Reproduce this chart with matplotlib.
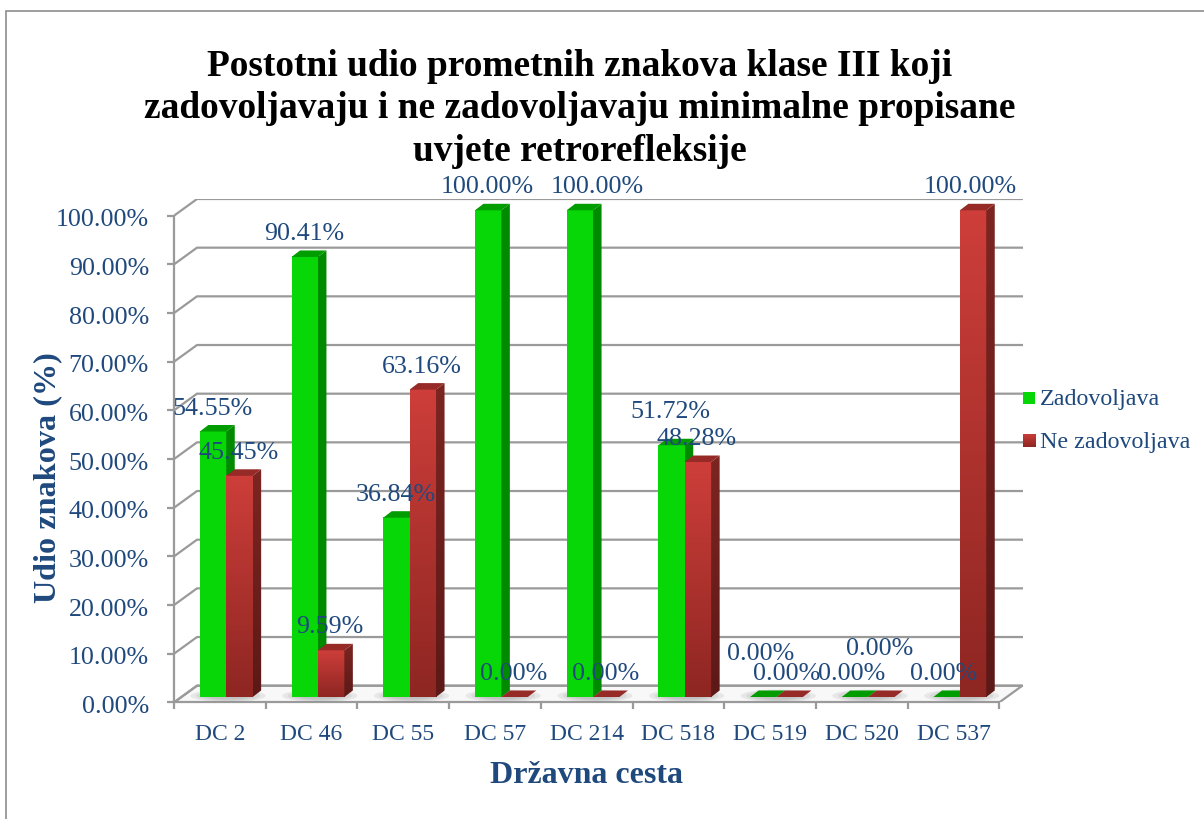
import numpy as np
import matplotlib
matplotlib.use("Agg")
import matplotlib.pyplot as plt
from matplotlib.colors import LinearSegmentedColormap
from matplotlib.patches import Polygon, Rectangle, Ellipse
from matplotlib.transforms import ScaledTranslation

plt.rcParams['font.family'] = ['Liberation Serif', 'DejaVu Serif']

#  Data
ceste = ["DC 2", "DC 46", "DC 55", "DC 57", "DC 214", "DC 518", "DC 519", "DC 520", "DC 537"]
zadovoljava = [54.55, 90.41, 36.84, 100.00, 100.00, 51.72, 0.00, 0.00, 0.00]
ne_zadovoljava = [45.45, 9.59, 63.16, 0.00, 0.00, 48.28, 0.00, 0.00, 100.00]
y_ticks = [0, 10, 20, 30, 40, 50, 60, 70, 80, 90, 100]

#  Picture size and plot frame, pixels
W, H = 1204, 820
x0, x1_back, y0, y_top = 174, 1023, 703.4, 200.2
cat_px = 91.7
val_px = 4.867

#  Colours
text_col = "#1f497d"
grid_col = "#9a9a9a"
green_front = LinearSegmentedColormap.from_list("gf", ["#07d607", "#07d607"])
green_side = LinearSegmentedColormap.from_list("gs", ["#008a00", "#008a00"])
red_front = LinearSegmentedColormap.from_list("rf", ["#cd3e3a", "#8e2622"])
red_side = LinearSegmentedColormap.from_list("rs", ["#7c2521", "#5c1917"])
green_top, red_top = "#009c00", "#962a26"

#  Pseudo 3D offsets, in data units
wall_dx, wall_dy = 23/cat_px, 16.7/val_px
bar_dx, bar_dy = 8.5/cat_px, 6.5/val_px
base_dx, base_dy = 6.4/cat_px, 5.4/val_px
bar_w = 26.4/cat_px

fig = plt.figure(figsize=(W/100, H/100), dpi=100)
ax = fig.add_axes([x0/W, 1-y0/H, (x1_back-x0)/W, (y0-y_top)/H])
ax.patch.set_visible(False)


def gradient(cmap, x_a, x_b, y_a, y_b, clip=None, z=5):
    g = np.linspace(0, 1, 64).reshape(-1, 1)
    im = ax.imshow(g, cmap=cmap, extent=(x_a, x_b, y_a, y_b), origin="upper",
                   aspect="auto", zorder=z, interpolation="bilinear")
    if clip is not None:
        clip.set_transform(ax.transData)
        im.set_clip_path(clip)


def bar(left, val, front, side, top, z):
    b = base_dy
    t = b + val
    r = left + bar_w
    if val > 0:
        gradient(front, left, r, b, t, z=z)
        side_poly = Polygon([(r, b), (r+bar_dx, b+bar_dy), (r+bar_dx, t+bar_dy), (r, t)])
        gradient(side, r, r+bar_dx, b, t+bar_dy, clip=side_poly, z=z)
    ax.add_patch(Polygon([(left, t), (r, t), (r+bar_dx, t+bar_dy), (left+bar_dx, t+bar_dy)],
                         fc=top, ec="none", zorder=z))


#  Walls and floor
ax.add_patch(Polygon([(-0.5, 0), (8.5, 0), (8.5+wall_dx, wall_dy), (-0.5+wall_dx, wall_dy)],
                     fc="#f8f8f8", ec=grid_col, lw=1.6, zorder=1))
for v in y_ticks:
    ax.plot([-0.5, -0.5+wall_dx, 8.5+wall_dx], [v, v+wall_dy, v+wall_dy],
            color=grid_col, lw=1.6, zorder=2, solid_joinstyle="round")

#  Bars
for i in range(len(ceste)):
    c = i + base_dx
    for grow in [1.0, 0.85, 0.7, 0.55]:
        ax.add_patch(Ellipse((c+0.02, base_dy+0.25), 0.82*grow, 2.6*grow, fc="#8f8f8f", ec="none",
                             alpha=0.16, zorder=3))
    bar(c-bar_w, zadovoljava[i], green_front, green_side, green_top, 5+2*i)
    bar(c, ne_zadovoljava[i], red_front, red_side, red_top, 6+2*i)

#  Data labels, 24 px above the bar top
shift = {(4, 0): (18, 0), (5, 0): (0, 10), (6, 0): (-2, 20), (6, 1): (-2, 0), (7, 0): (-2, 0),
         (7, 1): (-1, 25), (8, 0): (-2, 0), (8, 1): (-2, 0)}
for s, vals in enumerate([zadovoljava, ne_zadovoljava]):
    for i, v in enumerate(vals):
        dx, dy = shift.get((i, s), (0, 0))
        xc = i + base_dx + (s-0.5)*bar_w
        ax.annotate("{:.2f}%".format(v), (xc, v+base_dy),
                    xytext=((dx-1)*0.72, (24+dy)*0.72), textcoords="offset points",
                    ha="center", va="center", fontsize=18.7, color=text_col, zorder=40)

#  Axes
ax.set_xlim(-0.5, (x1_back-x0)/cat_px-0.5)
ax.set_ylim(0, (y0-y_top)/val_px)
for side in ["top", "right"]:
    ax.spines[side].set_visible(False)
for side in ["left", "bottom"]:
    ax.spines[side].set_color(grid_col)
    ax.spines[side].set_linewidth(1.6)
ax.spines["left"].set_bounds(0, 100)
ax.spines["bottom"].set_bounds(-0.5, 8.5)
ax.set_yticks(y_ticks)
ax.set_yticklabels(["{:.2f}%".format(v) for v in y_ticks], fontsize=18.7, color=text_col)
ax.tick_params(axis="y", length=5, width=1.6, color=grid_col, pad=13)
down = ScaledTranslation(0, -1/100, fig.dpi_scale_trans)
for lab in ax.get_yticklabels():
    lab.set_transform(lab.get_transform() + down)
ax.set_xticks(np.arange(-0.5, 9))
ax.set_xticklabels([])
ax.tick_params(axis="x", which="major", length=5, width=1.6, color=grid_col)
ax.set_xticks(np.arange(9), minor=True)
ax.set_xticklabels(ceste, minor=True, fontsize=17, color=text_col)
ax.tick_params(axis="x", which="minor", length=0, pad=15)


#  Text in picture pixels
def ptext(x, y, s, **kw):
    fig.text(x/W, 1-y/H, s, ha=kw.pop("ha", "center"), va="center", color=kw.pop("color", text_col), **kw)


ptext(580, 109, "Postotni udio prometnih znakova klase III koji\n"
      "zadovoljavaju i ne zadovoljavaju minimalne propisane\nuvjete retrorefleksije",
      fontsize=26.9, fontweight="bold", color="black", linespacing=1.29)
ptext(48, 478, "Udio znakova (%)", fontsize=23.2, fontweight="bold", rotation=90)
ptext(586, 776, "Državna cesta", fontsize=23, fontweight="bold")

#  Legend
sw1 = fig.add_axes([1023/W, 1-405/H, 12/W, 12/H])
sw2 = fig.add_axes([1023/W, 1-448/H, 13/W, 13/H])
for sw, cm in [(sw1, green_front), (sw2, red_front)]:
    sw.imshow(np.linspace(0, 1, 32).reshape(-1, 1), cmap=cm, aspect="auto")
    sw.axis("off")
ptext(1040, 400, "Zadovoljava", ha="left", fontsize=17.3)
ptext(1040, 443, "Ne zadovoljava", ha="left", fontsize=17.3)

#  Outer frame
fig.add_artist(Rectangle((6/W, -0.02), 1.1, 1-12/H+0.02, transform=fig.transFigure,
                         fc="none", ec="#8c8c8c", lw=1.2))

fig.savefig("out.png", dpi=100)
